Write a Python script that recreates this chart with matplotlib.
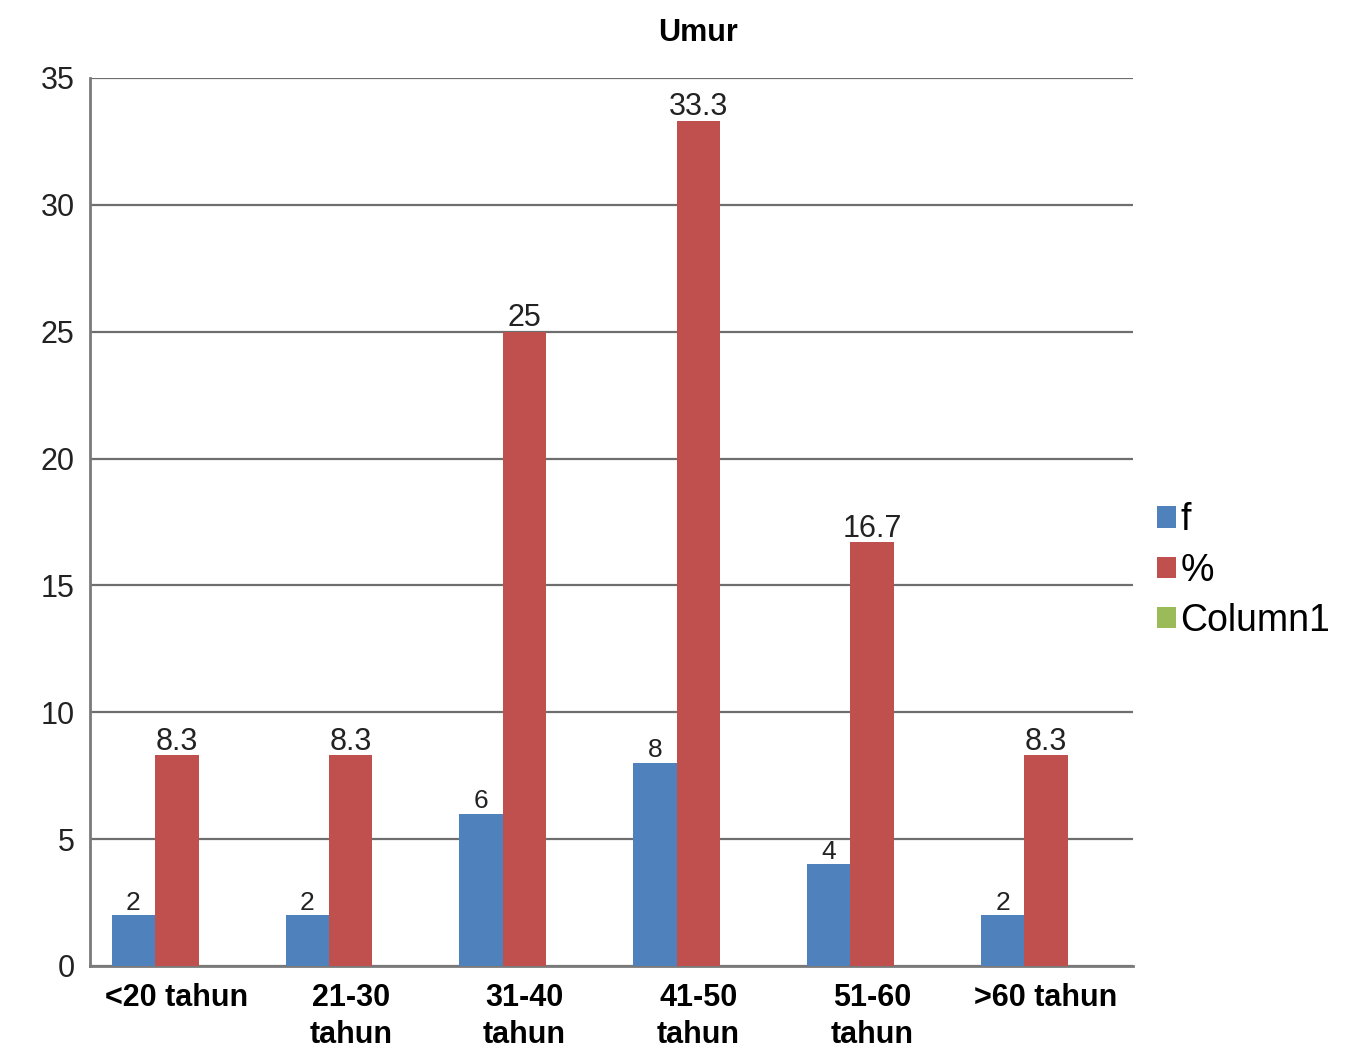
import numpy as np
import matplotlib.pyplot as plt

plt.rcParams['font.family'] = ['Liberation Sans', 'DejaVu Sans']

# age groups and their counts / percentages
categories = ['<20 tahun', '21-30\ntahun', '31-40\ntahun', '41-50\ntahun', '51-60\ntahun', '>60 tahun']
f_values = [2, 2, 6, 8, 4, 2]
pct_values = [8.3, 8.3, 25, 33.3, 16.7, 8.3]
col1_values = [0, 0, 0, 0, 0, 0]

blue = '#4F81BD'
red = '#C0504D'
green = '#9BBB59'

fig = plt.figure(figsize=(13.47, 10.51), dpi=100)
ax = fig.add_axes([0.0668, 0.0809, 0.7743, 0.8449])

x = np.arange(len(categories))
w = 0.25
b1 = ax.bar(x - w, f_values, w, color=blue, label='f', zorder=3)
b2 = ax.bar(x, pct_values, w, color=red, label='%', zorder=3)
b3 = ax.bar(x + w, col1_values, w, color=green, label='Column1', zorder=3)

for rect, v in zip(b1, f_values):
    ax.text(rect.get_x() + rect.get_width() / 2, v + 0.02, f'{v:g}',
            ha='center', va='bottom', fontsize=19, color='#222222', zorder=4)
for rect, v in zip(b2, pct_values):
    ax.text(rect.get_x() + rect.get_width() / 2, v - 0.05, f'{v:g}',
            ha='center', va='bottom', fontsize=22, color='#222222', zorder=4)

ax.set_xlim(-0.5, len(categories) - 0.5)
ax.set_ylim(0, 35)
ax.set_yticks(range(0, 36, 5))
ax.set_xticks(x)
ax.set_xticklabels(categories, fontsize=22, fontweight='bold', linespacing=1.32)
ax.tick_params(axis='y', length=0, pad=11, labelsize=22, labelcolor='#222222')
ax.tick_params(axis='x', length=0, pad=12)

ax.yaxis.grid(True, color='#6e6e6e', linewidth=1.6, zorder=0)
ax.set_axisbelow(True)
for side in ['top', 'right']:
    ax.spines[side].set_visible(False)
for side in ['left', 'bottom']:
    ax.spines[side].set_color('#7a7a7a')
    ax.spines[side].set_linewidth(2)

fig.text(0.5185, 0.969, 'Umur', ha='center', va='center', fontsize=22, fontweight='bold')

fig.legend(handles=[b1, b2, b3], loc='center left', bbox_to_anchor=(0.859, 0.457),
           frameon=False, fontsize=27, handlelength=0.5, handleheight=0.5,
           handletextpad=0.12, labelspacing=0.38, borderpad=0, borderaxespad=0)

fig.savefig('out.png', dpi=100)
